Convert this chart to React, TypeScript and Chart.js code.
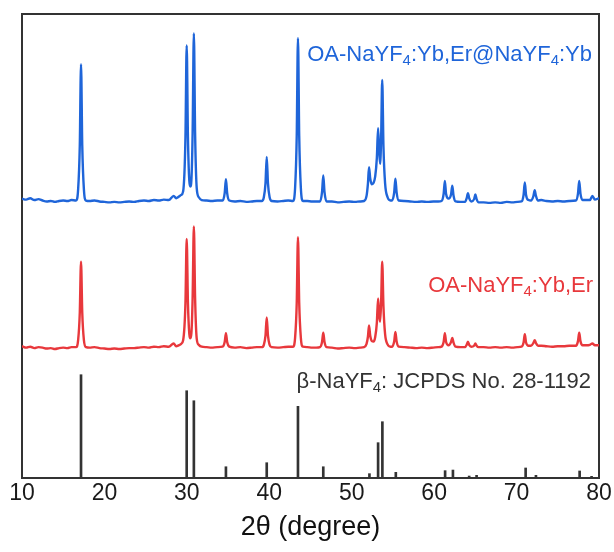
import React, { useEffect, useRef } from 'react';
import { Chart, registerables } from 'chart.js';

Chart.register(...registerables);

// ---------- data (2θ in degrees, intensity in arbitrary units, stacked offsets as read) ----------
const X_MIN = 10;
const X_MAX = 80;
const X_STEP = 10;

// OA-NaYF4:Yb,Er@NaYF4:Yb (blue, upper trace)
const blueCurve: [number, number][] = [
  [10, 60.2], [10.5, 60.0], [11, 60.3], [11.5, 59.9], [12, 60.1], [12.5, 59.8], [13, 59.6], [13.5, 59.7], [14, 59.5], [14.5, 59.7], [15, 59.8], [15.5, 59.7], [16, 59.9],
  [16.56, 59.8], [16.81, 62.2], [17.01, 71.6], [17.16, 89.2], [17.31, 71.6], [17.51, 62.2], [17.76, 59.8],
  [18.2, 59.7], [18.8, 59.8], [19.4, 59.6], [20, 59.5], [20.6, 59.4], [21.2, 59.5], [21.8, 59.4], [22.4, 59.5], [23, 59.6], [23.6, 59.5], [24.2, 59.7], [24.8, 59.8], [25.4, 59.7], [26, 59.9], [26.6, 59.8], [27.2, 60.0], [27.8, 59.9], [28.4, 60.8], [28.7, 60.3],
  [29.0, 60.6], [29.3, 61.0], [29.55, 61.8], [29.83, 73.5], [29.98, 93.2], [30.13, 73.5], [30.3, 64.0], [30.42, 62.8], [30.55, 64.2], [30.7, 74.4], [30.85, 95.8], [31.0, 74.4], [31.2, 62.4], [31.45, 60.5], [31.8, 59.9],
  [32.4, 59.8], [33, 59.7], [33.7, 59.8],
  [34.34, 59.8], [34.59, 61.4], [34.74, 64.4], [34.89, 61.4], [35.14, 59.8],
  [35.8, 59.6], [36.5, 59.7], [37.2, 59.5], [37.9, 59.6], [38.5, 59.7],
  [39.09, 59.7], [39.34, 60.5], [39.54, 63.5], [39.69, 69.2], [39.84, 63.5], [40.04, 60.5], [40.29, 59.7],
  [41, 59.6], [41.7, 59.7], [42.3, 59.8],
  [42.88, 59.7], [43.13, 62.5], [43.33, 73.7], [43.48, 94.8], [43.63, 73.7], [43.83, 62.5], [44.08, 59.7],
  [44.6, 59.7], [45.2, 59.6], [45.7, 59.6],
  [46.15, 59.6], [46.4, 61.6], [46.55, 65.2], [46.7, 61.6], [46.95, 59.6],
  [47.6, 59.6], [48.3, 59.4], [49, 59.5], [49.7, 59.6], [50.4, 59.5], [51, 59.6],
  [51.5, 59.7], [51.8, 60.8], [51.97, 63.5], [52.1, 67.0], [52.25, 64.5], [52.45, 63.3], [52.65, 63.6], [52.85, 65.0], [53.05, 69.0], [53.2, 75.4], [53.33, 70.5], [53.45, 67.7], [53.57, 73.5], [53.7, 85.8], [53.85, 71.5], [54.05, 63.5], [54.35, 60.5], [54.7, 59.8],
  [54.9, 59.8], [55.15, 61.5], [55.3, 64.5], [55.45, 61.5], [55.7, 59.8],
  [56.4, 59.7], [57.1, 59.6], [57.8, 59.5], [58.5, 59.6], [59.2, 59.5], [59.9, 59.6], [60.5, 59.6],
  [60.9, 59.7], [61.15, 61.2], [61.3, 64.0], [61.45, 61.2], [61.75, 60.2], [62.05, 61.1], [62.2, 63.0], [62.35, 60.9], [62.6, 59.6],
  [63.2, 59.5],
  [63.75, 59.5], [63.95, 60.3], [64.1, 61.4], [64.25, 60.3], [64.5, 59.6], [64.85, 60.1], [65.0, 61.1], [65.15, 60.1], [65.4, 59.4],
  [66, 59.4], [66.7, 59.3], [67.4, 59.4], [68.1, 59.3], [68.8, 59.5], [69.5, 59.4], [70.1, 59.5],
  [70.6, 59.6], [70.85, 61.0], [71.0, 63.7], [71.15, 61.0], [71.45, 59.9], [71.75, 59.8], [72.05, 60.8], [72.2, 62.0], [72.35, 60.8], [72.6, 59.8],
  [73.0, 59.9], [73.6, 59.7], [74.3, 59.6], [75, 59.7], [75.7, 59.6], [76.4, 59.7],
  [77.2, 59.8], [77.45, 61.3], [77.6, 64.0], [77.75, 61.3], [78.0, 59.9], [78.4, 59.9], [78.9, 59.9], [79.2, 60.8], [79.5, 60.0], [80, 60.3],
];

// OA-NaYF4:Yb,Er (red, middle trace)
const redCurve: [number, number][] = [
  [10, 28.4], [10.5, 28.1], [11, 28.3], [11.5, 28.0], [12, 28.2], [12.5, 28.1], [13, 27.9], [13.5, 28.0], [14, 27.8], [14.5, 28.0], [15, 28.1], [15.5, 28.0], [16, 28.2],
  [16.56, 28.2], [16.81, 29.7], [17.01, 35.6], [17.16, 46.6], [17.31, 35.6], [17.51, 29.7], [17.76, 28.2],
  [18.2, 28.1], [18.8, 28.2], [19.4, 28.0], [20, 27.9], [20.6, 27.8], [21.2, 27.9], [21.8, 27.8], [22.4, 27.9], [23, 28.0], [23.6, 28.0], [24.2, 28.1], [24.8, 28.2], [25.4, 28.1], [26, 28.3], [26.6, 28.2], [27.2, 28.4], [27.8, 28.3], [28.4, 29.0], [28.7, 28.4],
  [29.0, 28.6], [29.3, 28.9], [29.55, 29.7], [29.83, 37.8], [29.98, 51.5], [30.13, 37.8], [30.3, 31.0], [30.42, 30.1], [30.55, 31.2], [30.7, 38.8], [30.85, 54.2], [31.0, 38.8], [31.2, 30.0], [31.45, 28.7], [31.8, 28.3],
  [32.4, 28.2], [33, 28.1], [33.7, 28.2],
  [34.34, 28.3], [34.59, 29.3], [34.74, 31.2], [34.89, 29.3], [35.14, 28.3],
  [35.8, 28.1], [36.5, 28.2], [37.2, 28.0], [37.9, 28.1], [38.5, 28.2],
  [39.09, 28.2], [39.34, 28.7], [39.54, 30.7], [39.69, 34.6], [39.84, 30.7], [40.04, 28.7], [40.29, 28.2],
  [41, 28.1], [41.7, 28.2], [42.3, 28.3],
  [42.88, 28.3], [43.13, 30.2], [43.33, 37.7], [43.48, 51.9], [43.63, 37.7], [43.83, 30.2], [44.08, 28.3],
  [44.6, 28.2], [45.2, 28.1], [45.7, 28.1],
  [46.15, 28.2], [46.4, 29.3], [46.55, 31.3], [46.7, 29.3], [46.95, 28.2],
  [47.6, 28.1], [48.3, 27.9], [49, 28.0], [49.7, 28.1], [50.4, 28.0], [51, 28.1],
  [51.5, 28.2], [51.8, 28.9], [51.97, 30.5], [52.1, 32.9], [52.25, 30.6], [52.45, 29.5], [52.65, 29.4], [52.85, 30.4], [53.05, 33.5], [53.2, 38.7], [53.33, 35.0], [53.45, 33.7], [53.57, 38.0], [53.7, 46.6], [53.85, 37.0], [54.05, 31.0], [54.35, 28.8], [54.7, 28.3],
  [54.9, 28.3], [55.15, 29.4], [55.3, 31.5], [55.45, 29.4], [55.7, 28.3],
  [56.4, 28.2], [57.1, 28.1], [57.8, 28.0], [58.5, 28.1], [59.2, 28.0], [59.9, 28.1], [60.5, 28.2],
  [60.9, 28.3], [61.15, 29.3], [61.3, 31.2], [61.45, 29.3], [61.75, 28.6], [62.05, 29.3], [62.2, 30.2], [62.35, 29.2], [62.6, 28.3],
  [63.2, 28.2],
  [63.75, 28.2], [63.95, 28.7], [64.1, 29.4], [64.25, 28.7], [64.5, 28.3], [64.85, 28.5], [65.0, 29.0], [65.15, 28.5], [65.4, 28.2],
  [66, 28.2], [66.7, 28.1], [67.4, 28.2], [68.1, 28.1], [68.8, 28.2], [69.5, 28.1], [70.1, 28.2],
  [70.6, 28.3], [70.85, 29.2], [71.0, 31.0], [71.15, 29.2], [71.45, 28.5], [71.75, 28.5], [72.05, 29.1], [72.2, 29.7], [72.35, 29.1], [72.6, 28.5],
  [73.0, 28.5], [73.6, 28.4], [74.3, 28.3], [75, 28.4], [75.7, 28.4], [76.4, 28.5],
  [77.2, 28.5], [77.45, 29.5], [77.6, 31.3], [77.75, 29.5], [78.0, 28.6], [78.4, 28.6], [78.9, 28.7], [79.2, 29.0], [79.5, 28.6], [80, 28.6],
];

// β-NaYF4 reference pattern, JCPDS No. 28-1192 (relative intensity, %)
const refTwoTheta = [17.16, 29.98, 30.85, 34.74, 39.69, 43.48, 46.55, 52.15, 53.2, 53.72, 55.35, 61.33, 62.28, 64.25, 65.15, 71.1, 72.35, 77.65, 79.1];
const refIntensity = [100, 84.5, 74.8, 10.9, 14.8, 69.4, 10.9, 4.2, 34.2, 54.5, 5.5, 7.1, 7.7, 1.9, 2.6, 9.7, 2.6, 6.8, 1.6];
const REF_SCALE = 0.2226; // a.u. per % on the stacked plot

const Y_MIN = 0;
const Y_MAX = 100;

const BLUE = '#1f65d9';
const RED = '#e8383c';
const STICK = '#333333';
const FRAME = '#333333';
const FONT = '"Liberation Sans", Arial, Helvetica, sans-serif';

type Run = [string, boolean];
const LABELS: { runs: Run[]; color: string; right: number; baseline: number }[] = [
  { runs: [['OA-NaYF', false], ['4', true], [':Yb,Er@NaYF', false], ['4', true], [':Yb', false]], color: BLUE, right: 7, baseline: 47 },
  { runs: [['OA-NaYF', false], ['4', true], [':Yb,Er', false]], color: RED, right: 6, baseline: 278 },
  { runs: [['β-NaYF', false], ['4', true], [': JCPDS No. 28-1192', false]], color: STICK, right: 8, baseline: 374 },
];
const LABEL_SIZE = 22;
const SUB_SIZE = 15;

const labelPlugin = {
  id: 'seriesLabels',
  afterDatasetsDraw(chart: any) {
    const { ctx, chartArea } = chart;
    const mainFont = `${LABEL_SIZE}px ${FONT}`;
    const subFont = `${SUB_SIZE}px ${FONT}`;
    for (const lab of LABELS) {
      ctx.save();
      let w = 0;
      for (const [t, sub] of lab.runs) {
        ctx.font = sub ? subFont : mainFont;
        w += ctx.measureText(t).width;
      }
      let x = chartArea.right - lab.right - w;
      const y = chartArea.top + lab.baseline;
      ctx.fillStyle = lab.color;
      ctx.textBaseline = 'alphabetic';
      ctx.textAlign = 'left';
      for (const [t, sub] of lab.runs) {
        ctx.font = sub ? subFont : mainFont;
        ctx.fillText(t, x, sub ? y + 4 : y);
        x += ctx.measureText(t).width;
      }
      ctx.restore();
    }
  },
};

export default function App() {
  const ref = useRef<HTMLCanvasElement>(null);

  useEffect(() => {
    if (!ref.current) return;
    Chart.defaults.font.family = FONT;
    const lineStyle = {
      borderWidth: 2.4,
      pointRadius: 0,
      cubicInterpolationMode: 'monotone' as const,
      fill: false,
      xAxisID: 'x',
      yAxisID: 'y',
    };
    const chart = new Chart(ref.current, {
      type: 'line',
      data: {
        datasets: [
          {
            type: 'bar',
            label: 'β-NaYF4: JCPDS No. 28-1192',
            data: refTwoTheta.map((x, i) => ({ x, y: refIntensity[i] * REF_SCALE })),
            backgroundColor: STICK,
            borderWidth: 0,
            barThickness: 2,
            xAxisID: 'x',
            yAxisID: 'y',
          } as any,
          {
            label: 'OA-NaYF4:Yb,Er',
            data: redCurve.map(([x, y]) => ({ x, y })),
            borderColor: RED,
            ...lineStyle,
          },
          {
            label: 'OA-NaYF4:Yb,Er@NaYF4:Yb',
            data: blueCurve.map(([x, y]) => ({ x, y })),
            borderColor: BLUE,
            ...lineStyle,
          },
        ],
      },
      options: {
        animation: false,
        responsive: true,
        maintainAspectRatio: false,
        devicePixelRatio: 1,
        layout: { padding: 0 },
        plugins: { legend: { display: false }, tooltip: { enabled: false } },
        scales: {
          x: {
            type: 'linear',
            position: 'bottom',
            min: X_MIN,
            max: X_MAX,
            offset: false,
            grid: { display: false, drawTicks: false },
            border: { display: true, color: FRAME, width: 2 },
            ticks: {
              stepSize: X_STEP,
              autoSkip: false,
              maxRotation: 0,
              padding: 2,
              color: '#1a1a1a',
              font: { size: 23, family: FONT },
            },
            title: {
              display: true,
              text: '2θ (degree)',
              color: '#111111',
              font: { size: 27, family: FONT },
              padding: { top: 0, bottom: 8 },
            },
            afterFit: (s: any) => { s.height = 74; },
          },
          x2: {
            type: 'linear',
            position: 'top',
            min: X_MIN,
            max: X_MAX,
            grid: { display: false, drawTicks: false },
            border: { display: true, color: FRAME, width: 2 },
            ticks: { display: false },
            afterFit: (s: any) => { s.height = 14; },
          },
          y: {
            type: 'linear',
            position: 'left',
            min: Y_MIN,
            max: Y_MAX,
            grid: { display: false, drawTicks: false },
            border: { display: true, color: FRAME, width: 2 },
            ticks: { display: false },
            afterFit: (s: any) => { s.width = 22; },
          },
          y2: {
            type: 'linear',
            position: 'right',
            min: Y_MIN,
            max: Y_MAX,
            grid: { display: false, drawTicks: false },
            border: { display: true, color: FRAME, width: 2 },
            ticks: { display: false },
            afterFit: (s: any) => { s.width = 15; },
          },
        },
      },
      plugins: [labelPlugin],
    });
    return () => chart.destroy();
  }, []);

  return (
    <div style={{ position: 'absolute', left: 0, top: 0, width: 614, height: 552, background: '#ffffff' }}>
      <canvas ref={ref} />
    </div>
  );
}
